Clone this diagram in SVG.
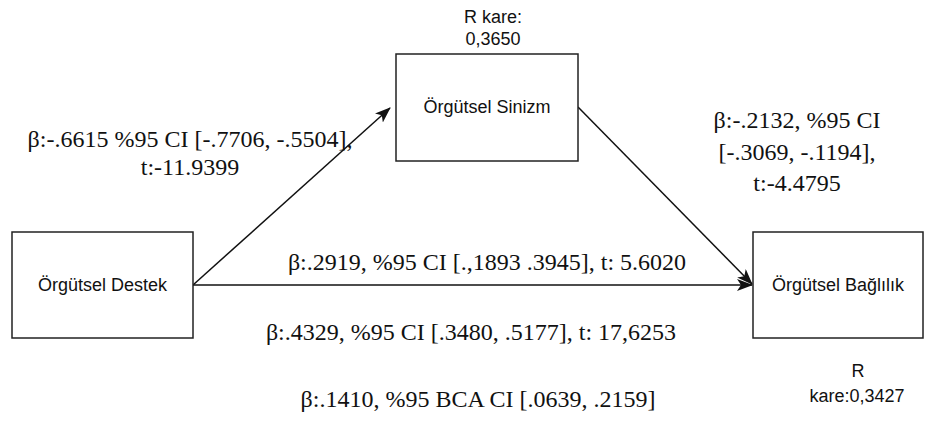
<svg xmlns="http://www.w3.org/2000/svg" width="925" height="421" viewBox="0 0 925 421">
<style>
.box{fill:#fff;stroke:#222;stroke-width:1.5}
.sans{font-family:"Liberation Sans",Arial,sans-serif;font-size:18px;fill:#111;text-anchor:middle}
.serif{font-family:"Liberation Serif","Times New Roman",serif;font-size:24px;fill:#111;text-anchor:middle}
.edge{stroke:#111;stroke-width:1.5;fill:none}
</style>
<defs>
<marker id="arr" markerWidth="16" markerHeight="12" refX="15" refY="6" orient="auto" markerUnits="userSpaceOnUse">
<path d="M0,0 L16,6 L0,12 L4,6 z" fill="#111"/>
</marker>
</defs>
<rect width="925" height="421" fill="#fff"/>
<g id="connectors">
<line class="edge" x1="193" y1="285" x2="390" y2="108" marker-end="url(#arr)"/>
<line class="edge" x1="578" y1="107" x2="752" y2="284" marker-end="url(#arr)"/>
<line class="edge" x1="193" y1="285" x2="752" y2="285" marker-end="url(#arr)"/>
</g>
<g id="destek">
<rect class="box" x="12" y="232" width="181" height="106"/>
<text class="sans" x="102.5" y="291">Örgütsel Destek</text>
</g>
<g id="sinizm">
<rect class="box" x="396" y="54" width="182" height="107"/>
<text class="sans" x="487" y="113">Örgütsel Sinizm</text>
<text class="sans" x="493" y="23">R kare:</text>
<text class="sans" x="493" y="45">0,3650</text>
</g>
<g id="baglilik">
<rect class="box" x="753" y="232" width="170" height="106"/>
<text class="sans" x="838" y="291">Örgütsel Bağlılık</text>
<text class="sans" x="858" y="377">R</text>
<text class="sans" x="857" y="402">kare:0,3427</text>
</g>
<g id="labels">
<text class="serif" x="190" y="147">β:-.6615 %95 CI [-.7706, -.5504],</text>
<text class="serif" x="190" y="175">t:-11.9399</text>
<text class="serif" x="797" y="128">β:-.2132, %95 CI</text>
<text class="serif" x="797" y="160">[-.3069, -.1194],</text>
<text class="serif" x="797" y="191">t:-4.4795</text>
<text class="serif" x="487" y="270">β:.2919, %95 CI [.,1893 .3945], t: 5.6020</text>
<text class="serif" x="471" y="340">β:.4329, %95 CI [.3480, .5177], t: 17,6253</text>
<text class="serif" x="478" y="407">β:.1410, %95 BCA CI [.0639, .2159]</text>
</g>
</svg>
